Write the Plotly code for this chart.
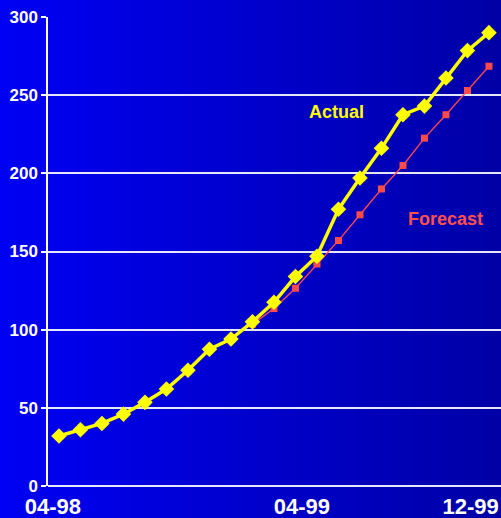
import plotly.graph_objects as go

# Monthly series, 04-98 through 12-99
months = ["04-98", "05-98", "06-98", "07-98", "08-98", "09-98", "10-98",
          "11-98", "12-98", "01-99", "02-99", "03-99", "04-99", "05-99",
          "06-99", "07-99", "08-99", "09-99", "10-99", "11-99", "12-99"]
actual = [32, 36, 40, 46, 53.5, 62, 74, 87.5, 94, 105, 117.5, 134, 147,
          177, 197, 216, 237.5, 243, 261, 278.5, 290]
# Forecast starts at 01-99
forecast_months = months[9:]
forecast = [103.5, 113.5, 126.5, 142, 157, 173.5, 190, 205, 222.5, 237.5,
            253, 268.5]

tick_text = ["04-98", "04-99", "12-99"]
tick_pos = [-0.28, 11.3, 19.15]

x_actual = list(range(len(months)))
x_forecast = [months.index(m) for m in forecast_months]

W, H = 501, 518
ML, MR, MT, MB = 48, 0, 17, 32
pw, ph = W - ML - MR, H - MT - MB

fig = go.Figure()

# Horizontal blue gradient behind the whole figure
n = 120
x_lo, x_hi = -ML / pw, 1 + MR / pw
c0, c1 = 244, 166
for i in range(n):
    t = i / (n - 1)
    b = round(c0 + (c1 - c0) * t)
    fig.add_shape(type="rect", xref="paper", yref="paper", layer="below",
                  x0=x_lo + (x_hi - x_lo) * i / n,
                  x1=x_lo + (x_hi - x_lo) * (i + 1) / n + 0.002,
                  y0=-MB / ph - 0.01, y1=1 + MT / ph + 0.01,
                  fillcolor=f"rgb(0,0,{b})", line_width=0)

fig.add_trace(go.Scatter(
    x=x_forecast, y=forecast, mode="lines+markers", name="Forecast",
    line=dict(color="#ff4a4a", width=1.3),
    marker=dict(symbol="square", size=7, color="#ff4a4a"),
))
fig.add_trace(go.Scatter(
    x=x_actual, y=actual, mode="lines+markers", name="Actual",
    line=dict(color="#ffff00", width=3.5),
    marker=dict(symbol="diamond", size=12, color="#ffff00"),
))

fig.add_annotation(x=337, y=112, xref="x", yref="y", text="Actual",
                   showarrow=False,
                   font=dict(family="Liberation Sans, Arial", size=18,
                             color="#ffff00", weight="bold"))
fig.add_annotation(x=446, y=219, xref="x", yref="y", text="Forecast",
                   showarrow=False,
                   font=dict(family="Liberation Sans, Arial", size=18,
                             color="#ff5050", weight="bold"))

# convert annotation pixel placements into data units
px_per_x = 21.5
x0_px = 59
for a in fig.layout.annotations:
    a.x = (a.x - x0_px) / px_per_x
    a.y = (486 - a.y) / (469 / 300)

fig.update_layout(
    width=W, height=H,
    margin=dict(l=ML, r=MR, t=MT, b=MB),
    paper_bgcolor="rgba(0,0,0,0)",
    plot_bgcolor="rgba(0,0,0,0)",
    showlegend=False,
    font=dict(family="Liberation Sans, Arial", color="white"),
)
fig.update_xaxes(
    range=[-0.51, 20.56],
    tickvals=tick_pos, ticktext=tick_text,
    showgrid=False, zeroline=False, showline=False,
    ticks="", ticklabelstandoff=5,
    tickfont=dict(size=22, color="white", weight="bold"),
)
fig.update_yaxes(
    range=[0, 300], dtick=50,
    showgrid=True, gridcolor="rgba(255,255,255,0.9)", gridwidth=1.5,
    zeroline=True, zerolinecolor="rgba(255,255,255,0.9)", zerolinewidth=1.5,
    showline=True, linecolor="white", linewidth=1.5,
    ticks="outside", ticklen=5, tickcolor="white", tickwidth=1.5,
    tickfont=dict(size=17, color="white", weight="bold"),
)

fig.write_html("out.html")
